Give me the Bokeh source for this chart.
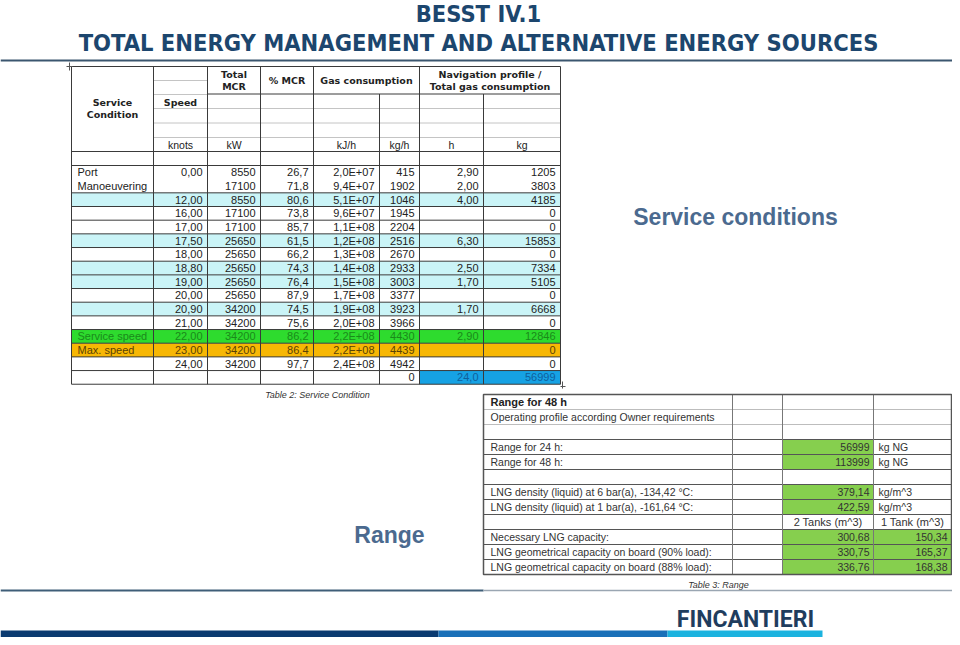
from bokeh.plotting import figure
from bokeh.models import Range1d
from bokeh.core.properties import value
from bokeh.embed import file_html
from bokeh.resources import INLINE

# ---------------- data ----------------
title_1 = "BESST IV.1"
title_2 = "TOTAL ENERGY MANAGEMENT AND ALTERNATIVE ENERGY SOURCES"

condition = ["Port", "Manoeuvering", "", "", "", "", "", "", "", "", "", "",
             "Service speed", "Max. speed", ""]
speed = ["0,00", "", "12,00", "16,00", "17,00", "17,50", "18,00", "18,80", "19,00",
         "20,00", "20,90", "21,00", "22,00", "23,00", "24,00"]
mcr_kw = [8550, 17100, 8550, 17100, 17100, 25650, 25650, 25650, 25650, 25650,
          34200, 34200, 34200, 34200, 34200]
pct_mcr = ["26,7", "71,8", "80,6", "73,8", "85,7", "61,5", "66,2", "74,3", "76,4",
           "87,9", "74,5", "75,6", "86,2", "86,4", "97,7"]
gas_kjh = ["2,0E+07", "9,4E+07", "5,1E+07", "9,6E+07", "1,1E+08", "1,2E+08", "1,3E+08",
           "1,4E+08", "1,5E+08", "1,7E+08", "1,9E+08", "2,0E+08", "2,2E+08", "2,2E+08",
           "2,4E+08"]
gas_kgh = [415, 1902, 1046, 1945, 2204, 2516, 2670, 2933, 3003, 3377, 3923, 3966,
           4430, 4439, 4942]
nav_h = ["2,90", "2,00", "4,00", "", "", "6,30", "", "2,50", "1,70", "", "1,70", "",
         "2,90", "", ""]
nav_kg = [1205, 3803, 4185, 0, 0, 15853, 0, 7334, 5105, 0, 6668, 0, 12846, 0, 0]
row_kind = ["w", "w", "c", "w", "w", "c", "w", "c", "c", "w", "c", "w", "g", "o", "w"]
total_kgh = "0"
total_h = "24,0"
total_kg = "56999"
units = ["knots", "kW", "", "kJ/h", "kg/h", "h", "kg"]

range_labels = ["Range  for 48 h", "Operating profile according Owner requirements", "",
                "Range for 24 h:", "Range for 48 h:", "",
                "LNG density (liquid) at 6 bar(a), -134,42 \u00b0C:",
                "LNG density (liquid) at 1 bar(a), -161,64 \u00b0C:", "",
                "Necessary LNG capacity:",
                "LNG geometrical capacity on board (90% load):",
                "LNG geometrical capacity on board (88% load):"]
range_val2 = ["", "", "", "56999", "113999", "", "379,14", "422,59", "2 Tanks (m^3)",
              "300,68", "330,75", "336,76"]
range_val3 = ["", "", "", "kg NG", "kg NG", "", "kg/m^3", "kg/m^3", "1 Tank (m^3)",
              "150,34", "165,37", "168,38"]
range_green2 = [0, 0, 0, 1, 1, 0, 1, 1, 0, 1, 1, 1]
range_green3 = [0, 0, 0, 0, 0, 0, 0, 0, 0, 1, 1, 1]

# ---------------- layout ----------------
W, H = 952, 637
p = figure(width=W, height=H, x_range=Range1d(0, W), y_range=Range1d(H, 0),
           output_backend="svg", toolbar_location=None, min_border=0)
p.xaxis.visible = False
p.yaxis.visible = False
p.grid.visible = False
p.outline_line_color = None
p.background_fill_color = "white"
p.border_fill_color = "white"

ARIAL = value("Liberation Sans")
VERD = value("DejaVu Sans")
TITLE_FONT = value("'Liberation Sans Narrow', 'DejaVu Sans Condensed', 'Roboto', sans-serif")
DARK = "#222222"

def txt(xs, ys, ts, align="left", size="11px", font=ARIAL, style="normal", color=DARK):
    if not isinstance(color, list):
        color = [color] * len(xs)
    p.text(x=xs, y=ys, text=ts, text_color=color, text_align=align, text_baseline="middle",
           text_font=font, text_font_size=size, text_font_style=style)

# Title
TITLE_C = "#1c466e"
txt([478], [13], [title_1], "center", "23.5px", TITLE_FONT, "bold", TITLE_C)
txt([478], [42], [title_2], "center", "23.5px", TITLE_FONT, "bold", TITLE_C)
p.segment(x0=[0], y0=[60], x1=[960], y1=[60], line_color="#3b566f", line_width=2)

# ---------------- Table 2 ----------------
C = [71, 153, 207, 260, 313, 379, 419, 483, 560]
T_TOP, H_BOT, B_BOT, RH = 66, 151, 165, 13.67
nrows = len(speed) + 1
row_top = [B_BOT + i * RH for i in range(nrows)]
row_mid = [t + RH / 2 for t in row_top]
T_BOT = B_BOT + nrows * RH

fill_map = {"c": "#caf4f7", "g": "#2edb2e", "o": "#f7b704"}
fl, fr, ft, fb, fc = [], [], [], [], []
for i, k in enumerate(row_kind):
    if k in fill_map:
        fl.append(C[0]); fr.append(C[-1]); ft.append(row_top[i]); fb.append(row_top[i] + RH)
        fc.append(fill_map[k])
fl.append(C[6]); fr.append(C[8]); ft.append(row_top[-1]); fb.append(row_top[-1] + RH)
fc.append("#16a2e4")
p.quad(left=fl, right=fr, top=ft, bottom=fb, fill_color=fc, line_color=None)

# light header grid
lx0, lx1, ly = [C[1]], [C[2]], [80]
for y in [108, 122.5, 137]:
    lx0.append(C[1]); lx1.append(C[-1]); ly.append(y)
lx0.append(C[1]); lx1.append(C[2]); ly.append(94)
p.segment(x0=lx0, y0=ly, x1=lx1, y1=ly, line_color="#c4c4c4", line_width=1)
# dark grid
dx0, dy0, dx1, dy1 = [], [], [], []
for y in [T_TOP, H_BOT, B_BOT]:
    dx0.append(C[0]); dx1.append(C[-1]); dy0.append(y); dy1.append(y)
dx0.append(C[2]); dx1.append(C[-1]); dy0.append(93.5); dy1.append(93.5)
for i in range(1, nrows + 1):
    if i == 1:
        continue
    y = B_BOT + i * RH
    dx0.append(C[0]); dx1.append(C[-1]); dy0.append(y); dy1.append(y)
for j, x in enumerate(C):
    top = 93.5 if j in (5, 7) else T_TOP
    dx0.append(x); dx1.append(x); dy0.append(top); dy1.append(T_BOT)
p.segment(x0=dx0, y0=dy0, x1=dx1, y1=dy1, line_color="#3a3a3a", line_width=1)
# corner marks
p.segment(x0=[69, 66, 562, 560], y0=[62, 66, 381, 386], x1=[69, 72, 562, 565],
          y1=[70, 66, 388, 386], line_color="#555555", line_width=1)

# header text
HB = "9.5px"
txt([112, 112], [102, 114], ["Service", "Condition"], "center", HB, VERD, "bold")
txt([180], [102], ["Speed"], "center", HB, VERD, "bold")
txt([233.5, 233.5], [74, 86], ["Total", "MCR"], "center", HB, VERD, "bold")
txt([286.5], [80], ["% MCR"], "center", HB, VERD, "bold")
txt([366], [80], ["Gas consumption"], "center", HB, VERD, "bold")
txt([489.5, 489.5], [74, 86], ["Navigation profile /", "Total gas consumption"],
    "center", HB, VERD, "bold")
ux = [(C[j] + C[j + 1]) / 2 for j in range(1, 8)]
txt(ux, [144] * 7, units, "center", "10.5px")

# body text
tc_map = {"w": DARK, "c": DARK, "g": "#1a8a1a", "o": "#5a4206"}
cols = [speed, [str(v) for v in mcr_kw], pct_mcr, gas_kjh, [str(v) for v in gas_kgh],
        nav_h, [str(v) for v in nav_kg]]
n = len(speed)
colors = [tc_map[k] for k in row_kind]
txt([C[0] + 6] * n, row_mid[:n], condition, "left", "11px", color=colors)
for j, colv in enumerate(cols):
    txt([C[j + 2] - 5] * n, row_mid[:n], colv, "right", "11px", color=colors)
txt([C[6] - 5, C[7] - 5, C[8] - 5], [row_mid[-1]] * 3, [total_kgh, total_h, total_kg],
    "right", "11px", color=[DARK, "#10609c", "#10609c"])
txt([317], [394], ["Table 2: Service Condition"], "center", "9px", ARIAL, "italic", "#333333")

# ---------------- labels ----------------
LAB_C = "#4b6a8f"
txt([735], [216], ["Service conditions"], "center", "23px", ARIAL, "bold", LAB_C)
txt([389], [534], ["Range"], "center", "23px", ARIAL, "bold", LAB_C)

# ---------------- Table 3 ----------------
R = [483, 732, 782, 873, 951]
R_TOP, RRH = 394, 15
nr = len(range_labels)
r_top = [R_TOP + i * RRH for i in range(nr)]
r_mid = [t + RRH / 2 for t in r_top]
R_BOT = R_TOP + nr * RRH
gl, gr, gt, gb = [], [], [], []
for i in range(nr):
    if range_green2[i]:
        gl.append(R[2]); gr.append(R[3]); gt.append(r_top[i]); gb.append(r_top[i] + RRH)
    if range_green3[i]:
        gl.append(R[3]); gr.append(R[4]); gt.append(r_top[i]); gb.append(r_top[i] + RRH)
p.quad(left=gl, right=gr, top=gt, bottom=gb, fill_color="#86cf4e", line_color=None)
p.segment(x0=[R[0]] * 2, y0=[r_top[1], r_top[2]], x1=[R[-1]] * 2, y1=[r_top[1], r_top[2]],
          line_color="#bdbdbd", line_width=1)
hy = [r_top[i] for i in range(3, nr)]
p.segment(x0=[R[0]] * len(hy), y0=hy, x1=[R[-1]] * len(hy), y1=hy,
          line_color="#555555", line_width=1)
p.segment(x0=R[1:-1], y0=[R_TOP] * 3, x1=R[1:-1], y1=[R_BOT] * 3,
          line_color="#777777", line_width=1)
p.quad(left=[R[0]], right=[R[-1]], top=[R_TOP], bottom=[R_BOT], fill_color=None,
       line_color="#555555", line_width=1.5)

txt([490], [r_mid[0]], [range_labels[0]], "left", "11px", ARIAL, "bold")
txt([490] * (nr - 1), r_mid[1:], range_labels[1:], "left", "10.5px", color="#333333")
num2 = [i for i in range(nr) if range_val2[i] and i != 8]
txt([R[3] - 4] * len(num2), [r_mid[i] for i in num2], [range_val2[i] for i in num2],
    "right", "10.5px", color="#333333")
unit3 = [i for i in range(nr) if range_val3[i] and not range_green3[i] and i != 8]
txt([R[3] + 5] * len(unit3), [r_mid[i] for i in unit3], [range_val3[i] for i in unit3],
    "left", "10.5px", color="#333333")
num3 = [i for i in range(nr) if range_green3[i]]
txt([R[4] - 4] * len(num3), [r_mid[i] for i in num3], [range_val3[i] for i in num3],
    "right", "10.5px", color="#333333")
txt([(R[2] + R[3]) / 2, (R[3] + R[4]) / 2], [r_mid[8]] * 2, [range_val2[8], range_val3[8]],
    "center", "11px", color="#333333")
txt([718], [584], ["Table 3: Range"], "center", "9px", ARIAL, "italic", "#333333")

# ---------------- footer ----------------
p.segment(x0=[0, 483], y0=[590, 590], x1=[483, 956], y1=[590, 590],
          line_color=["#3f5e78", "#9aa6b2"], line_width=[2, 1.5])
p.quad(left=[0, 438, 667], right=[438, 667, 822], top=[630, 630, 630],
       bottom=[637, 637, 637], fill_color=["#0b3a70", "#1a70b8", "#1bb3df"], line_color=None)
txt([745], [619], ["FINCANTIERI"], "center", "23px", value("Roboto"), "bold", "#1f3d5e")

open("out.html", "w").write(file_html(p, INLINE))
